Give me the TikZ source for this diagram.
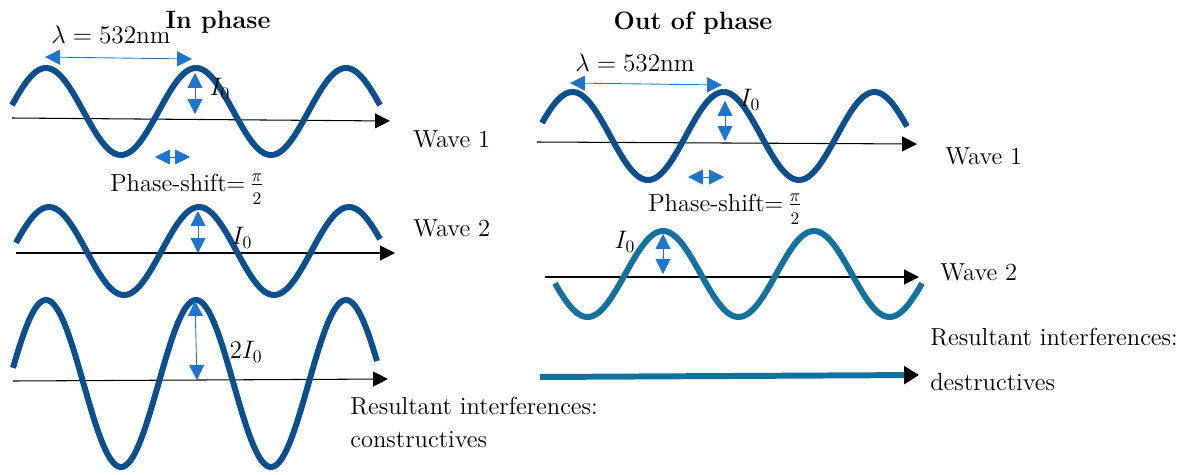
\documentclass[tikz,border=0pt]{standalone}
\usepackage{amsmath}
\usepackage{tikz}
\usetikzlibrary{arrows.meta,positioning}
\definecolor{wavedark}{HTML}{0B4F8F}
\definecolor{waveteal}{HTML}{12729E}
\definecolor{dimblue}{HTML}{1F74CC}
\newcommand{\halfpi}{\,$\frac{\pi}{\rule{0pt}{10.5pt}2}$}

\begin{document}
\begin{tikzpicture}[x=0.02cm,y=-0.02cm,>=Stealth,
 every node/.style={inner sep=0pt,font=\fontsize{14}{16}\selectfont},
 title/.style={font=\fontsize{14.3}{16}\selectfont\bfseries},
 lam/.style={font=\fontsize{15.5}{17}\selectfont},
 wave/.style={draw=wavedark,line width=3.4pt},
 axis/.style={draw,line width=0.6pt,-{Triangle[length=8.5pt,width=8.5pt]}},
 dim/.style={draw=dimblue,line width=0.5pt,
  {Triangle[length=8.5pt,width=8.5pt,color=dimblue]}-{Triangle[length=8.5pt,width=8.5pt,color=dimblue]}}]
\useasboundingbox (0,0) rectangle (1187,474);
\node[title] (inph) at (218,22) {In phase};
\node[title] (outph) at (693,23) {Out of phase};
\coordinate (a1L) at (12,118); \coordinate (b1L) at (390,121);
\coordinate (a2L) at (16,253); \coordinate (b2L) at (395,253);
\coordinate (a3L) at (13,381); \coordinate (b3L) at (388,379);
\coordinate (a1R) at (537,142); \coordinate (b1R) at (917,144);
\coordinate (a2R) at (545,277); \coordinate (b2R) at (919,277);
\draw[axis] (a1L) -- (b1L);
\draw[axis] (a2L) -- (b2L);
\draw[axis] (a3L) -- (b3L);
\draw[axis] (a1R) -- (b1R);
\draw[axis] (a2R) -- (b2R);
\draw[wave] plot[domain=12:380,samples=150,smooth] (\x,{111.5-43.5*cos(2.4*(\x-46))});
\draw[wave] plot[domain=16:380,samples=150,smooth] (\x,{251-44*cos(2.4*(\x-49))});
\draw[wave] plot[domain=13:377,samples=150,smooth] (\x,{383.5-83.5*cos(2.4*(\x-46))});
\draw[wave] plot[domain=542:907,samples=150,smooth] (\x,{136-44*cos(2.384*(\x-572.5))});
\draw[wave,draw=waveteal] plot[domain=555:922,samples=150,smooth] (\x,{274-43*cos(2.384*(\x-663))});
\node[lam] (lamL) at (111,35) {$\lambda = 532\mathrm{nm}$};
\node[lam] (lamR) at (635,63) {$\lambda = 532\mathrm{nm}$};
\coordinate (l1) at (45,57); \coordinate (l2) at (192,59);
\coordinate (l3) at (570,83); \coordinate (l4) at (722,85);
\draw[dim] (l1) -- (l2);
\draw[dim] (l3) -- (l4);
\coordinate (i1) at (195,73); \coordinate (i2) at (195,114);
\coordinate (i3) at (198,211); \coordinate (i4) at (198,253);
\coordinate (i5) at (195,301); \coordinate (i6) at (197,380);
\coordinate (i7) at (725,101); \coordinate (i8) at (725,141);
\coordinate (i9) at (663,234); \coordinate (i10) at (663,274);
\draw[dim] (i1) -- (i2);
\draw[dim] (i3) -- (i4);
\draw[dim] (i5) -- (i6);
\draw[dim] (i7) -- (i8);
\draw[dim] (i9) -- (i10);
\node (I1L) at (220,89) {$I_0$};
\node (I2L) at (242,238) {$I_0$};
\node (I3L) at (246,352) {$2I_0$};
\node (I1R) at (750,100) {$I_0$};
\node (I2R) at (625,242) {$I_0$};
\coordinate (p1) at (155,157); \coordinate (p2) at (190,157);
\coordinate (p3) at (688,177); \coordinate (p4) at (724,177);
\draw[dim] (p1) -- (p2);
\draw[dim] (p3) -- (p4);
\node[anchor=base west] (phL) at (110,191) {Phase-shift=\halfpi};
\node[anchor=base west] (phR) at (648,211) {Phase-shift=\halfpi};
\node[anchor=west] (w1L) at (413,139) {Wave 1};
\node[anchor=west] (w2L) at (413,228) {Wave 2};
\node[anchor=west] (w1R) at (945,156) {Wave 1};
\node[anchor=west] (w2R) at (940,272) {Wave 2};
\node[anchor=west] (resL) at (350,406) {Resultant interferences:};
\node[anchor=west] (conL) at (350,440) {constructives};
\node[anchor=west] (resR) at (930,337) {Resultant interferences:};
\node[anchor=west] (desR) at (930,382) {destructives};
\coordinate (t1) at (540,377); \coordinate (t2) at (919,375);
\draw[draw=waveteal,line width=3.4pt,-{Triangle[length=8.5pt,width=10pt,color=black]}] (t1) -- (t2);
\end{tikzpicture}
\end{document}
